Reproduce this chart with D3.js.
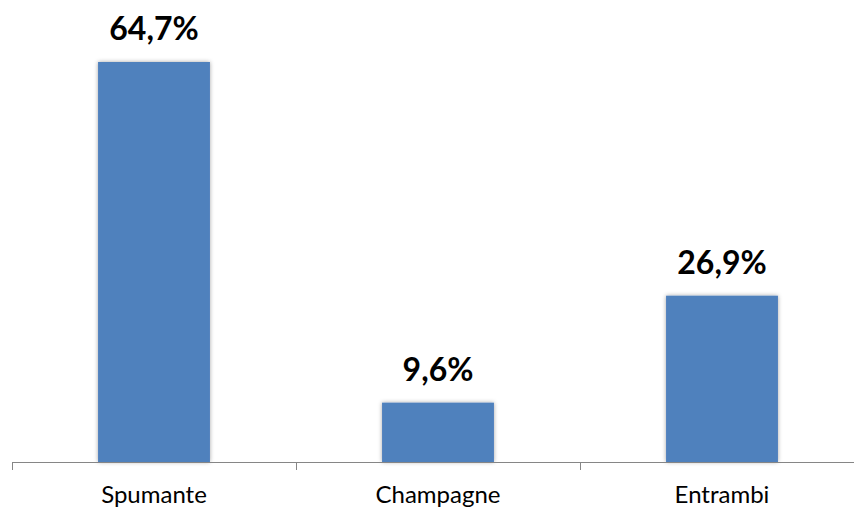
<!DOCTYPE html>
<html><head><meta charset="utf-8">
<script src="https://cdn.jsdelivr.net/npm/d3@7/dist/d3.min.js"></script>
<style>body{margin:0;background:#fff;}svg{display:block;}</style>
</head><body>
<script>
const categories = ["Spumante", "Champagne", "Entrambi"];
const values = [64.7, 9.6, 26.9];
const valueLabels = ["64,7%", "9,6%", "26,9%"];

const W = 854, H = 512;
const svg = d3.select("body").append("svg").attr("width", W).attr("height", H);
const defs = svg.append("defs");
const f = defs.append("filter").attr("id","sh").attr("x","-20%").attr("y","-20%").attr("width","140%").attr("height","140%");
f.append("feDropShadow").attr("dx",0).attr("dy",0).attr("stdDeviation",2).attr("flood-color","#000").attr("flood-opacity",0.35);

const baseY = 462;
const x = d3.scaleBand().domain(categories).range([12, 864]).paddingInner(0.606).paddingOuter(0.303);
const y = d3.scaleLinear().domain([0, 64.7]).range([baseY, 62]);

svg.append("g").selectAll("rect").data(values).join("rect")
  .attr("x",(d,i)=>x(categories[i]))
  .attr("y",d=>y(d))
  .attr("width",x.bandwidth())
  .attr("height",d=>baseY-y(d))
  .attr("fill","#4F81BD")
  .attr("filter","url(#sh)");

// axis
const ax = svg.append("g");
ax.append("line").attr("x1",12).attr("x2",864).attr("y1",baseY+0.5).attr("y2",baseY+0.5).attr("stroke","#868686").attr("stroke-width",1);
const step = x.step();
const ticks = d3.range(categories.length+1).map(i=>12+i*step);
ax.selectAll("line.t").data(ticks).join("line").attr("class","t")
  .attr("x1",d=>Math.round(d)+0.5).attr("x2",d=>Math.round(d)+0.5)
  .attr("y1",baseY).attr("y2",baseY+8).attr("stroke","#868686");

svg.append("g").selectAll("text").data(categories).join("text")
  .attr("x",d=>x(d)+x.bandwidth()/2).attr("y",503)
  .attr("text-anchor","middle").attr("font-family","Lato, 'Open Sans', sans-serif")
  .attr("font-size",24).attr("fill","#000").text(d=>d);

svg.append("g").selectAll("text").data(values).join("text")
  .attr("x",(d,i)=>x(categories[i])+x.bandwidth()/2).attr("y",d=>y(d)-22)
  .attr("text-anchor","middle").attr("font-family","Lato, 'Open Sans', sans-serif")
  .attr("font-weight","bold").attr("font-size",32).attr("fill","#000").text((d,i)=>valueLabels[i]);
</script>
</body></html>
